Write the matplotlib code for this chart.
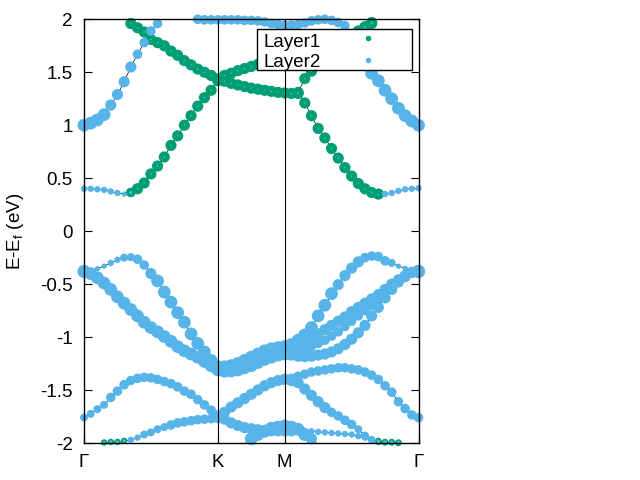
import matplotlib
matplotlib.use('Agg')
import matplotlib.pyplot as plt
import numpy as np

plt.rcParams['font.family'] = ['Liberation Sans', 'DejaVu Sans']
plt.rcParams['mathtext.fontset'] = 'custom'
plt.rcParams['mathtext.rm'] = 'Liberation Sans'

GREEN = '#009e73'
BLUE = '#56b4e9'

# k-path Gamma-K-M-Gamma, 51 k-points; high symmetry points by index
kticks = [0, 20, 30, 50]
klabels = ['Γ', 'K', 'M', 'Γ']
yticks = [-2, -1.5, -1, -0.5, 0, 0.5, 1, 1.5, 2]
ylabels = ['-2', '-1.5', '-1', '-0.5', '0', '0.5', '1', '1.5', '2']

# each band: first k index, energies (eV), layer1 / layer2 weights (0-9)
g1_k0 = 0
g1 = [0.40, 0.40, 0.395, 0.39, 0.375, 0.36, 0.35, 0.365, 0.40, 0.455,
      0.54, 0.615, 0.70, 0.81, 0.90, 1.00, 1.09, 1.18, 1.26, 1.33,
      1.42, 1.47, 1.49, 1.515, 1.535, 1.555, 1.575, 1.59, 1.60, 1.61,
      1.61, 1.62, 1.64, 1.66, 1.68, 1.70, 1.73, 1.76, 1.79, 1.82,
      1.85, 1.88, 1.92, 1.96, 2.01]
g1_w1 = "0000003677 7777777777 7777777777 7777777777 77777"
g1_w2 = "4444443211 1111111111 1111111111 1111111111 11111"

g2_k0 = 6
g2 = [2.03, 1.96, 1.92, 1.88,
      1.81, 1.78, 1.75, 1.70, 1.66, 1.61, 1.57, 1.53, 1.50, 1.47,
      1.44, 1.415, 1.395, 1.38, 1.365, 1.35, 1.34, 1.33, 1.32, 1.31,
      1.305, 1.30, 1.30, 1.21, 1.09, 0.97, 0.88, 0.78, 0.69, 0.60,
      0.52, 0.45, 0.40, 0.365, 0.35, 0.35, 0.36, 0.38, 0.395, 0.40,
      0.405]
g2_w1 = "7777 7777777777 7777777777 7777777777 7777730000 0"
g2_w2 = "1111 1111111111 1111111111 1111111111 1111144444 4"

g3_k0 = 32
g3 = [1.31, 1.44, 1.51, 1.58, 1.64, 1.70, 1.75, 1.80, 1.85, 1.89, 1.93, 1.97, 2.01]
g3_w1 = "7777777777777"
g3_w2 = "1111111111111"

b1_k0 = 0
b1 = [1.00, 1.02, 1.05, 1.10, 1.19, 1.29, 1.41, 1.55, 1.67, 1.78,
      1.89, 1.96, 2.03, 2.05, 2.05, 2.04, 2.02, 2.00, 1.995, 1.995,
      1.995, 1.995, 1.995, 1.995, 1.99, 1.99, 1.985, 1.975, 1.96, 1.95,
      1.945, 1.945, 1.95, 1.965, 1.985, 1.995, 2.00, 1.99, 1.97, 1.94,
      1.86, 1.72, 1.58, 1.49, 1.42, 1.33, 1.25, 1.16, 1.09, 1.04,
      1.00]
b1_w1 = "0000000000 0000000000 0000000000 0000000000 0000000000 0"
b1_w2 = "8888777766 6666666666 6666666666 6666666666 6788888888 8"

v1_k0 = 0
v1 = [-0.38, -0.37, -0.355, -0.33, -0.30, -0.27, -0.25, -0.245, -0.265, -0.32,
      -0.40, -0.47, -0.575, -0.67, -0.77, -0.86, -0.97, -1.06, -1.14, -1.22,
      -1.28, -1.28, -1.27, -1.25, -1.22, -1.19, -1.16, -1.13, -1.11, -1.10,
      -1.09, -1.07, -1.03, -0.98, -0.91, -0.80, -0.70, -0.59, -0.505, -0.42,
      -0.35, -0.29, -0.25, -0.235, -0.24, -0.28, -0.30, -0.33, -0.35, -0.37,
      -0.38]
v1_w1 = "0333000000 0000000000 0000000000 0000000000 0000000333 0"
v1_w2 = "8333445566 7888888888 8888888888 8888888877 7766665333 8"

v2_k0 = 0
v2 = [-0.38, -0.40, -0.44, -0.49, -0.55, -0.62, -0.68, -0.74, -0.80, -0.86,
      -0.91, -0.95, -0.995, -1.04, -1.09, -1.13, -1.16, -1.19, -1.23, -1.27,
      -1.30, -1.32, -1.32, -1.31, -1.29, -1.27, -1.24, -1.21, -1.19, -1.17,
      -1.16, -1.17, -1.18, -1.185, -1.18, -1.17, -1.16, -1.14, -1.11, -1.07,
      -1.02, -0.96, -0.89, -0.80, -0.72, -0.63, -0.55, -0.48, -0.43, -0.39,
      -0.38]
v2_w1 = "0000000000 0000000000 0000000000 0000000000 0000000000 0"
v2_w2 = "8888888888 8888888888 8888888888 8777777777 7777777777 8"

r2_k0 = 20
r2 = [-1.30, -1.30, -1.29, -1.28, -1.26, -1.23, -1.20, -1.17, -1.15, -1.13,
      -1.12, -1.11, -1.08, -1.05, -1.01, -0.97, -0.93, -0.89, -0.85, -0.81,
      -0.76, -0.72, -0.68, -0.64, -0.60, -0.55, -0.50, -0.46, -0.42, -0.39,
      -0.38]
r2_w1 = "0000000000 0000000000 0000000000 0"
r2_w2 = "8888888888 8777777777 7777777777 8"

r4_k0 = 20
r4 = [-1.31, -1.32, -1.31, -1.30, -1.28, -1.25, -1.22, -1.19, -1.17, -1.15,
      -1.14, -1.14, -1.13, -1.11, -1.09, -1.06, -1.03, -0.99, -0.95, -0.90,
      -0.85, -0.80, -0.75, -0.70, -0.64, -0.58, -0.52, -0.47, -0.42, -0.39,
      -0.38]
r4_w1 = "0000000000 0000000000 0000000000 0"
r4_w2 = "8888888888 8666666666 6666666666 8"

l4_k0 = 0
l4 = [-1.76, -1.725, -1.68, -1.64, -1.57, -1.51, -1.45, -1.41, -1.39, -1.38,
      -1.385, -1.40, -1.42, -1.44, -1.47, -1.51, -1.54, -1.59, -1.64, -1.69,
      -1.74, -1.775, -1.81, -1.835, -1.855, -1.865, -1.875, -1.88, -1.885, -1.885,
      -1.885, -1.885, -1.885, -1.885, -1.89, -1.895, -1.90, -1.905, -1.91, -1.915,
      -1.92, -1.935, -1.95, -1.965, -1.98, -1.99, -1.99, -1.995, -2.02]
l4_w1 = "0000000000 0000000000 0000000000 0000000000 000044444"
l4_w2 = "5555666666 6666666666 7777777777 7744444444 444422222"

l6_k0 = 3
l6 = [-1.995, -1.99, -1.99, -1.98, -1.97, -1.95, -1.92,
      -1.90, -1.87, -1.85, -1.83, -1.81, -1.80, -1.79, -1.78, -1.775, -1.77,
      -1.76, -1.71, -1.66, -1.62, -1.58, -1.54, -1.50, -1.46, -1.43, -1.41,
      -1.40, -1.39, -1.37, -1.35, -1.33, -1.32, -1.31, -1.30, -1.29, -1.29,
      -1.30, -1.31, -1.33, -1.36, -1.40, -1.46, -1.52, -1.61, -1.675, -1.735,
      -1.76]
l6_w1 = "4444000 0000000000 0000000000 0000000000 0000000000 0"
l6_w2 = "2222445 5556666666 7777777777 7666666666 6666666666 6"

l7_k0 = 30
l7 = [-1.40, -1.41, -1.43, -1.49, -1.55, -1.61, -1.665, -1.71, -1.745, -1.785,
      -1.825, -1.87, -1.93, -1.97, -1.99, -1.995, -1.995, -2.0]
l7_w1 = "0000000000 00004444"
l7_w2 = "7777777666 65552222"

l8_k0 = 24
l8 = [-2.01, -1.96, -1.92, -1.89, -1.86, -1.85, -1.84, -1.85, -1.87, -1.92, -1.96, -2.02]
l8_w1 = "000000000000"
l8_w2 = "788888888870"

bands = [(g1_k0, g1, g1_w1, g1_w2), (g2_k0, g2, g2_w1, g2_w2),
         (g3_k0, g3, g3_w1, g3_w2), (b1_k0, b1, b1_w1, b1_w2),
         (v1_k0, v1, v1_w1, v1_w2), (v2_k0, v2, v2_w1, v2_w2),
         (r2_k0, r2, r2_w1, r2_w2), (r4_k0, r4, r4_w1, r4_w2),
         (l4_k0, l4, l4_w1, l4_w2), (l6_k0, l6, l6_w1, l6_w2),
         (l7_k0, l7, l7_w1, l7_w2), (l8_k0, l8, l8_w1, l8_w2)]


def weights(s):
    return np.array([int(c) for c in s.replace(' ', '')], dtype=float)


def msize(w):
    # weight digit -> marker area (points^2), about 1.6 px per unit
    return (w * 1.6 * 0.72) ** 2


fig = plt.figure(figsize=(6.4, 4.8), dpi=100)
ax = fig.add_axes([84 / 640, 37 / 480, 334.5 / 640, 423.7 / 480])

layers = []
for k0, e, w1, w2 in bands:
    e = np.array(e, dtype=float)
    k = np.arange(k0, k0 + len(e))
    w1 = weights(w1)
    w2 = weights(w2)
    assert len(w1) == len(e) and len(w2) == len(e)
    ax.plot(k, e, color='black', lw=0.5, zorder=1)
    inside = (e >= -2.0) & (e <= 2.0)
    layers.append((k[inside], e[inside], w1[inside], w2[inside]))

for k, e, w1, w2 in layers:
    m = w1 > 0
    ax.scatter(k[m], e[m], s=msize(w1[m]), color=GREEN, lw=0, zorder=2, clip_on=False)
for k, e, w1, w2 in layers:
    m = w2 > 0
    ax.scatter(k[m], e[m], s=msize(w2[m]), color=BLUE, lw=0, zorder=3, clip_on=False)

for kk in kticks[1:-1]:
    ax.axvline(kk, color='black', lw=0.8, zorder=4)

ax.set_xlim(0, 50)
ax.set_ylim(-2, 2)
ax.set_xticks(kticks)
ax.set_xticklabels(klabels)
ax.set_yticks(yticks)
ax.set_yticklabels(ylabels)
ax.tick_params(direction='in', length=6, width=0.8, top=True, right=True,
               labelsize=13.5, pad=8)
for sp in ax.spines.values():
    sp.set_linewidth(1.0)
    sp.set_zorder(5)

fig.text(16 / 640, 1 - 231 / 480, r'E-E$_\mathrm{f}$ (eV)', rotation=90,
         ha='center', va='center', fontsize=13.5)

# key box
ax.add_patch(plt.Rectangle((0.5163, 0.8803), 0.4634, 0.0961, transform=ax.transAxes,
                           facecolor='white', edgecolor='black', lw=1.0,
                           zorder=10, clip_on=False))
ax.text(0.536, 0.9353, 'Layer1', transform=ax.transAxes, va='baseline',
        fontsize=13.5, zorder=11)
ax.text(0.536, 0.8882, 'Layer2', transform=ax.transAxes, va='baseline',
        fontsize=13.5, zorder=11)
ax.plot([0.850], [0.955], 'o', color=GREEN, ms=4, mew=0, transform=ax.transAxes,
        zorder=11, clip_on=False)
ax.plot([0.850], [0.904], 'o', color=BLUE, ms=4, mew=0, transform=ax.transAxes,
        zorder=11, clip_on=False)

fig.savefig('out.png', dpi=100)
